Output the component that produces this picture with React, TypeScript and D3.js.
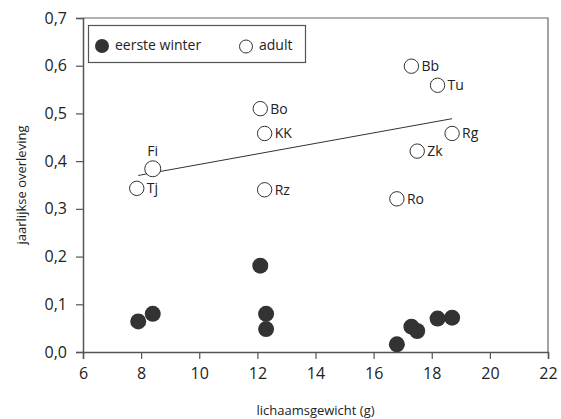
import React, { useRef, useEffect } from 'react';
import * as d3 from 'd3';

// eerste winter (gevulde punten)
const winterX = [7.9, 8.4, 12.1, 12.3, 12.3, 16.8, 17.3, 17.5, 18.2, 18.7];
const winterY = [0.064, 0.080, 0.181, 0.080, 0.048, 0.016, 0.053, 0.044, 0.070, 0.072];

// adult (open punten) met soortcode
const adultNames = ['Tj', 'Fi', 'Bo', 'KK', 'Rz', 'Ro', 'Bb', 'Zk', 'Tu', 'Rg'];
const adultX = [7.85, 8.4, 12.1, 12.25, 12.25, 16.8, 17.3, 17.5, 18.2, 18.7];
const adultY = [0.343, 0.384, 0.510, 0.458, 0.340, 0.321, 0.599, 0.421, 0.559, 0.458];

// trendlijn adult
const trendX = [7.9, 18.7];
const trendY = [0.370, 0.489];

const xTicks = [6, 8, 10, 12, 14, 16, 18, 20, 22];
const yTicks = [0, 0.1, 0.2, 0.3, 0.4, 0.5, 0.6, 0.7];

const width = 561;
const height = 419;
const margin = { left: 83, right: 13, top: 18, bottom: 67 };
const font = '"Open Sans", "DejaVu Sans", sans-serif';

const Chart = () => {
    const ref = useRef<SVGSVGElement>(null);

    useEffect(() => {
        const svg = d3.select(ref.current);
        svg.selectAll('*').remove();

        const x = d3.scaleLinear().domain([6, 22]).range([margin.left, width - margin.right]);
        const y = d3.scaleLinear().domain([0, 0.7]).range([height - margin.bottom, margin.top]);
        const fmt = (d: number) => d3.format('.1f')(d).replace('.', ',');

        // kader boven en rechts
        svg.append('path')
            .attr('d', `M${x(6)},${y(0.7)}H${x(22)}V${y(0)}`)
            .attr('fill', 'none')
            .attr('stroke', '#666')
            .attr('stroke-width', 1.2);

        const xAxis = svg.append('g')
            .attr('transform', `translate(0,${y(0)})`)
            .call(d3.axisBottom(x).tickValues(xTicks).tickSize(7).tickPadding(9).tickFormat(d => String(d)));
        const yAxis = svg.append('g')
            .attr('transform', `translate(${x(6)},0)`)
            .call(d3.axisLeft(y).tickValues(yTicks).tickSize(7).tickPadding(9).tickFormat(d => fmt(d as number)));

        [xAxis, yAxis].forEach(g => {
            g.select('.domain').attr('stroke', '#555').attr('stroke-width', 1.5);
            g.selectAll('.tick line').attr('stroke', '#555').attr('stroke-width', 1.2);
            g.selectAll('.tick text')
                .attr('fill', '#222')
                .style('font-family', font)
                .style('font-size', '16px');
        });

        // as-titels
        svg.append('text')
            .attr('x', (x(6) + x(22)) / 2)
            .attr('y', 415)
            .attr('text-anchor', 'middle')
            .style('font-family', font)
            .style('font-size', '13px')
            .attr('fill', '#222')
            .text('lichaamsgewicht (g)');

        svg.append('text')
            .attr('transform', `translate(26,${(y(0) + y(0.7)) / 2}) rotate(-90)`)
            .attr('text-anchor', 'middle')
            .style('font-family', font)
            .style('font-size', '13px')
            .attr('fill', '#222')
            .text('jaarlijkse overleving');

        // trendlijn
        const line = d3.line<number>().x((d, i) => x(trendX[i])).y(d => y(d));
        svg.append('path')
            .attr('d', line(trendY))
            .attr('fill', 'none')
            .attr('stroke', '#333')
            .attr('stroke-width', 1);

        // eerste winter
        svg.selectAll('.winter')
            .data(winterY)
            .enter().append('circle')
            .attr('class', 'winter')
            .attr('cx', (d, i) => x(winterX[i]))
            .attr('cy', d => y(d))
            .attr('r', 8)
            .attr('fill', '#333');

        // adult
        const adult = svg.selectAll('.adult')
            .data(adultY)
            .enter().append('g')
            .attr('class', 'adult');

        adult.append('circle')
            .attr('cx', (d, i) => x(adultX[i]))
            .attr('cy', d => y(d))
            .attr('r', (d, i) => (adultNames[i] === 'Fi' ? 8 : 7.2))
            .attr('fill', 'white')
            .attr('stroke', '#333')
            .attr('stroke-width', 1);

        adult.append('text')
            .attr('x', (d, i) => x(adultX[i]) + (adultNames[i] === 'Fi' ? 0 : 10))
            .attr('y', (d, i) => y(d) + (adultNames[i] === 'Fi' ? -13 : 5))
            .attr('text-anchor', (d, i) => (adultNames[i] === 'Fi' ? 'middle' : 'start'))
            .style('font-family', font)
            .style('font-size', '14px')
            .attr('fill', '#222')
            .text((d, i) => adultNames[i]);

        // legenda
        const legend = svg.append('g');
        legend.append('rect')
            .attr('x', x(6) + 5.5).attr('y', 25.5)
            .attr('width', 217).attr('height', 37)
            .attr('fill', 'white')
            .attr('stroke', '#555')
            .attr('stroke-width', 1.2);
        legend.append('circle').attr('cx', x(6) + 19).attr('cy', 46).attr('r', 7).attr('fill', '#333');
        legend.append('text')
            .attr('x', x(6) + 32).attr('y', 49.5)
            .style('font-family', font).style('font-size', '14px').attr('fill', '#222')
            .text('eerste winter');
        legend.append('circle').attr('cx', x(6) + 163).attr('cy', 46.5).attr('r', 6.5).attr('fill', 'white').attr('stroke', '#333');
        legend.append('text')
            .attr('x', x(6) + 176).attr('y', 49.5)
            .style('font-family', font).style('font-size', '14px').attr('fill', '#222')
            .text('adult');
    }, []);

    return <svg ref={ref} width={width} height={height} style={{ display: 'block' }}></svg>;
};

export default function App() {
    return (
        <div style={{ position: 'absolute', left: 0, top: 0 }}>
            <Chart />
        </div>
    );
}
